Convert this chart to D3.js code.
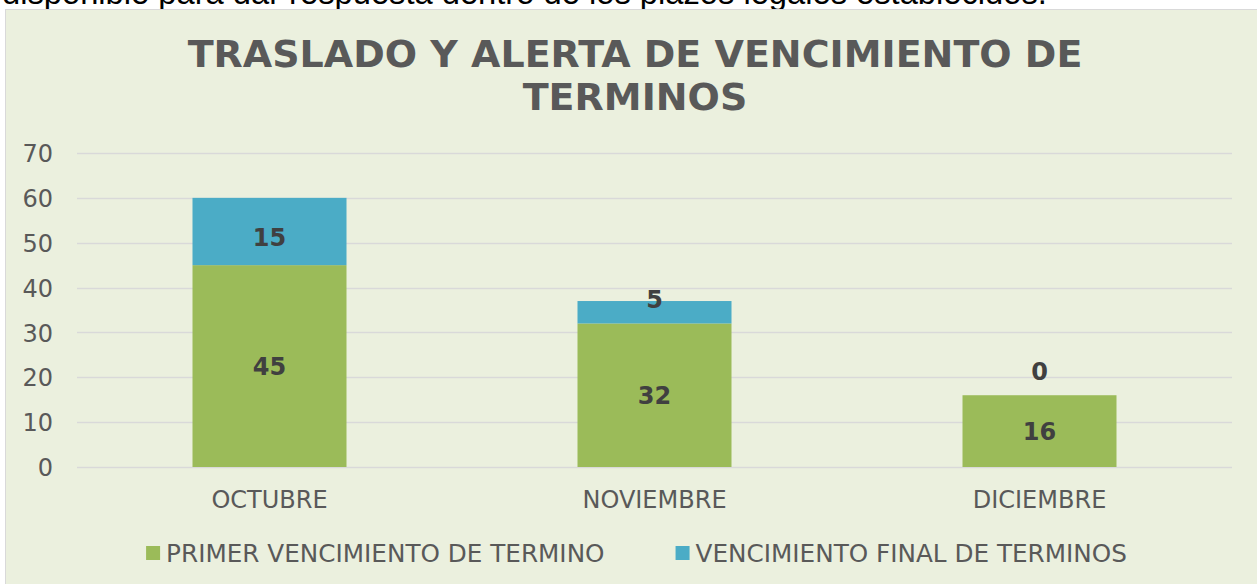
<!DOCTYPE html>
<html>
<head>
<meta charset="utf-8">
<script src="https://cdn.jsdelivr.net/npm/d3@7"></script>
<style>
html, body { margin: 0; padding: 0; background: #ffffff; overflow: hidden; }
svg { display: block; }
</style>
</head>
<body>
<svg id="chart" width="1257" height="584"></svg>
<script>
// ---- data ----
const categories = ["OCTUBRE", "NOVIEMBRE", "DICIEMBRE"];
const seriesNames = ["PRIMER VENCIMIENTO DE TERMINO", "VENCIMIENTO FINAL DE TERMINOS"];
const primerVencimiento = [45, 32, 16];
const vencimientoFinal = [15, 5, 0];
const yTicks = [0, 10, 20, 30, 40, 50, 60, 70];
const titleLines = ["TRASLADO Y ALERTA DE VENCIMIENTO DE", "TERMINOS"];
const aboveText = "disponible para dar respuesta dentro de los plazos legales establecidos.";

// ---- styles ----
const colors = ["#9BBB59", "#4BACC6"];
const bg = "#EBF0DE";
const textGray = "#595959";
const labelGray = "#404040";
const gridColor = "#D9D9D9";
const font = "'DejaVu Sans', Verdana, sans-serif";

const svg = d3.select("#chart");

// text from the document above the chart (cropped by the top edge, as in the reference)
const aboveEl = svg.append("text")
  .attr("x", 2).attr("y", 4)
  .attr("font-family", "'Liberation Sans', Arial, sans-serif")
  .attr("font-size", 100)
  .attr("fill", "#000")
  .text(aboveText);
const w100 = aboveEl.node().getComputedTextLength();
aboveEl.attr("font-size", 100 * 1045 / w100);

// chart area
svg.append("rect")
  .attr("x", 5.5).attr("y", 9.5)
  .attr("width", 1300).attr("height", 600)
  .attr("fill", bg).attr("stroke", gridColor).attr("stroke-width", 1);

// title
const title = svg.append("text")
  .attr("text-anchor", "middle")
  .attr("font-family", font)
  .attr("font-weight", "bold")
  .attr("font-size", 38)
  .attr("fill", textGray);
titleLines.forEach((t, i) => {
  title.append("tspan").attr("x", 635).attr("y", 67 + i * 43).text(t);
});

// scales
const x = d3.scaleBand().domain(categories).range([77, 1232])
  .paddingInner(0.6).paddingOuter(0.3);
const y = d3.scaleLinear().domain([0, 70]).range([467, 153]);

// gridlines
svg.append("g").selectAll("line").data(yTicks).join("line")
  .attr("x1", 77).attr("x2", 1232)
  .attr("y1", d => Math.round(y(d)) + 0.5).attr("y2", d => Math.round(y(d)) + 0.5)
  .attr("stroke", gridColor).attr("stroke-width", 1.5);

// y axis labels
const yAxis = svg.append("g")
  .attr("transform", "translate(77,0)")
  .call(d3.axisLeft(y).tickValues(yTicks).tickSize(0).tickPadding(24));
yAxis.select(".domain").remove();
yAxis.selectAll("text")
  .attr("font-family", font).attr("font-size", 24).attr("fill", textGray)
  .attr("dy", "0.36em");

// x axis labels
const xAxis = svg.append("g")
  .attr("transform", "translate(0,467)")
  .call(d3.axisBottom(x).tickSize(0).tickPadding(0));
xAxis.select(".domain").remove();
xAxis.selectAll("text")
  .attr("font-family", font).attr("font-size", 24).attr("fill", textGray)
  .attr("y", 32).attr("dy", "0.36em");

// stacked data
const rows = categories.map((c, i) => ({ cat: c, s0: primerVencimiento[i], s1: vencimientoFinal[i] }));
const stack = d3.stack().keys(["s0", "s1"])(rows);

const layers = svg.append("g").selectAll("g").data(stack).join("g")
  .attr("fill", (d, i) => colors[i]);
layers.selectAll("rect").data(d => d).join("rect")
  .attr("x", d => x(d.data.cat))
  .attr("width", x.bandwidth())
  .attr("y", d => y(d[1]))
  .attr("height", d => y(d[0]) - y(d[1]));

// data labels
const labels = svg.append("g")
  .attr("font-family", font).attr("font-weight", "bold")
  .attr("font-size", 24).attr("fill", labelGray)
  .attr("text-anchor", "middle");
stack.forEach((layer, li) => {
  layer.forEach(d => {
    const yTop = y(d[1]), yBot = y(d[0]);
    const h = yBot - yTop;
    const cy = h < 24 ? yTop - (24 - h) : (yTop + yBot) / 2 + (li === 1 ? 6 : 0);
    labels.append("text")
      .attr("x", x(d.data.cat) + x.bandwidth() / 2)
      .attr("y", cy).attr("dy", "0.36em")
      .text(d[1] - d[0]);
  });
});

// legend
const legend = svg.append("g")
  .attr("font-family", font).attr("font-size", 24.7).attr("fill", textGray);
const items = seriesNames.map((n, i) => {
  const g = legend.append("g");
  g.append("rect").attr("width", 14).attr("height", 14).attr("y", -7).attr("fill", colors[i]);
  const t = g.append("text").attr("x", 20).attr("dy", "0.36em").text(n);
  return { g, w: 20 + t.node().getComputedTextLength() };
});
const gap = 71;
const total = items.reduce((s, it) => s + it.w, 0) + gap * (items.length - 1);
let lx = 636.5 - total / 2;
items.forEach(it => {
  it.g.attr("transform", `translate(${lx},553)`);
  lx += it.w + gap;
});
</script>
</body>
</html>
